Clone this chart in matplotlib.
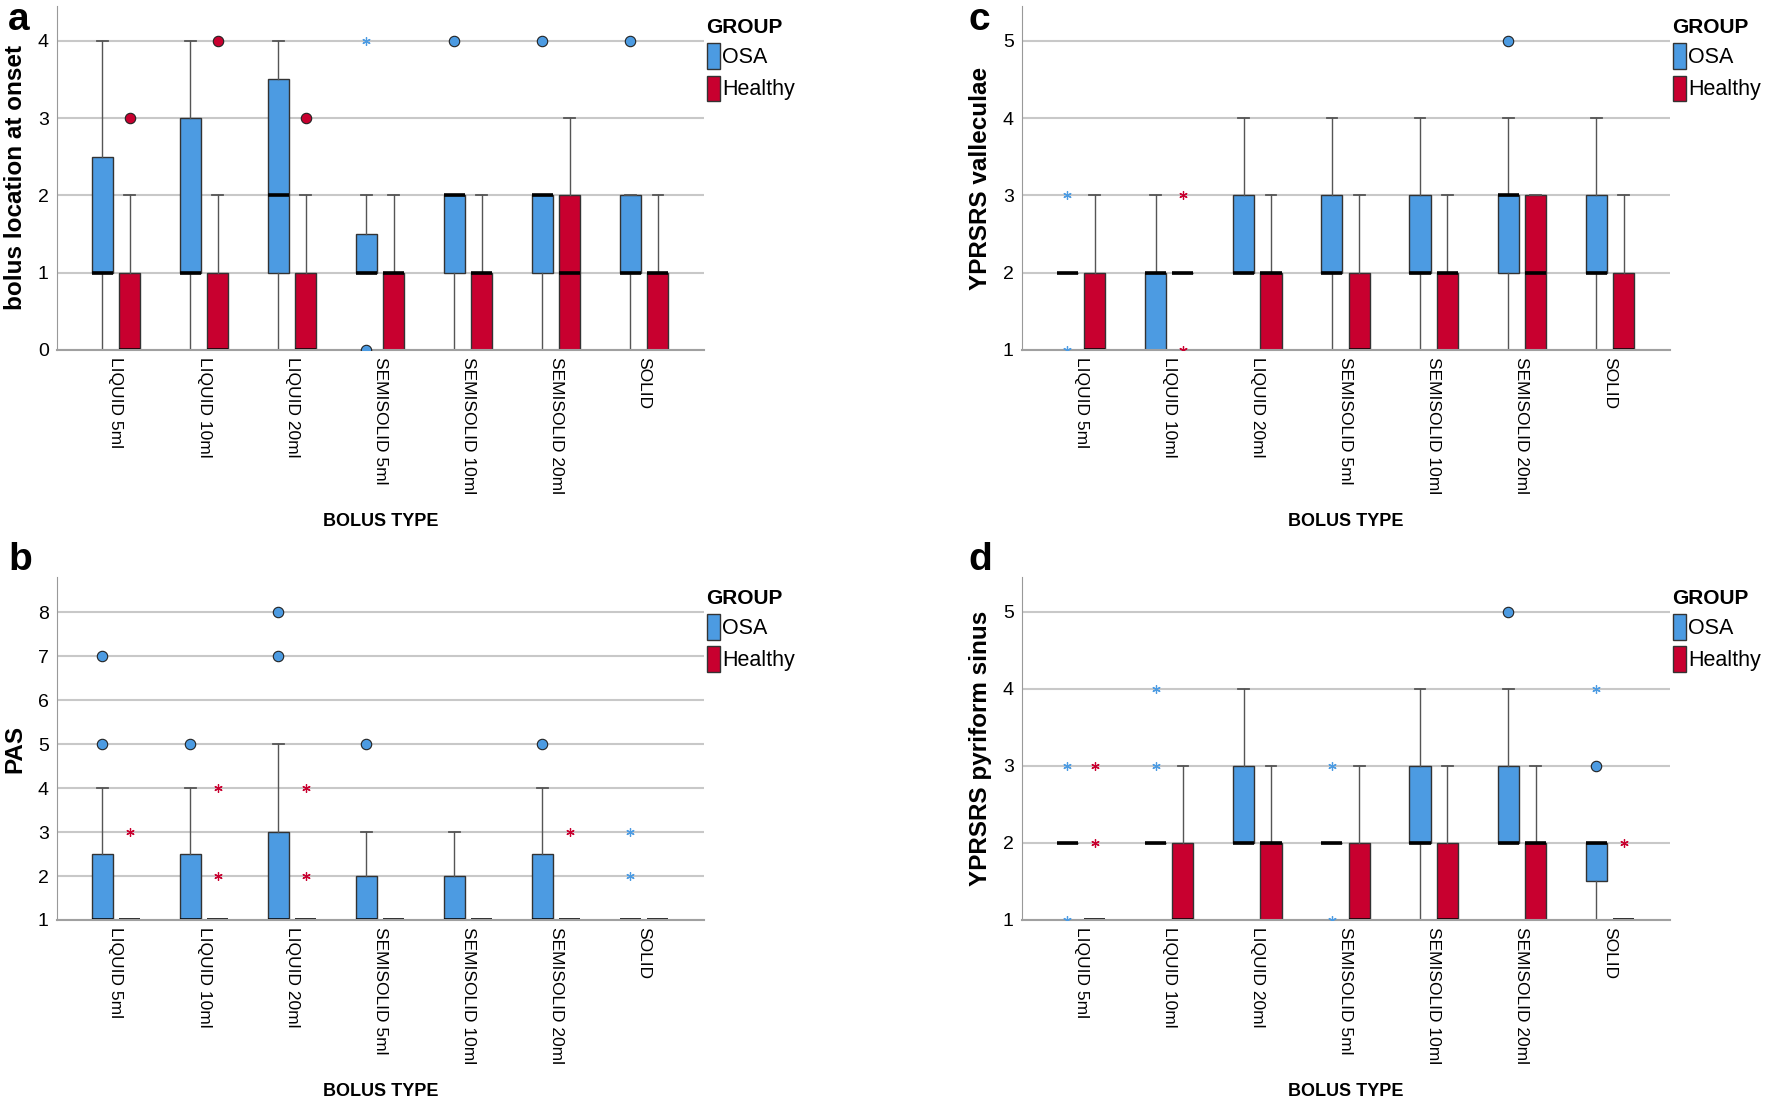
import matplotlib
matplotlib.use('Agg')
import matplotlib.pyplot as plt
from matplotlib.patches import Patch
from matplotlib.transforms import ScaledTranslation
import numpy as np

ARIAL = ['Liberation Sans', 'DejaVu Sans']
plt.rcParams['font.family'] = ARIAL

categories = ['LIQUID 5ml', 'LIQUID 10ml', 'LIQUID 20ml', 'SEMISOLID 5ml',
              'SEMISOLID 10ml', 'SEMISOLID 20ml', 'SOLID']
groups = ['OSA', 'Healthy']
colors = ['#4c9be2', '#c8002f']

# (whisker low, Q1, median, Q3, whisker high) for each bolus type
onset_osa = [(0, 1, 1, 2.5, 4), (0, 1, 1, 3, 4), (0, 1, 2, 3.5, 4), (1, 1, 1, 1.5, 2),
             (0, 1, 2, 2, 2), (0, 1, 2, 2, 2), (0, 1, 1, 2, 2)]
onset_healthy = [(0, 0, 0, 1, 2), (0, 0, 0, 1, 2), (0, 0, 0, 1, 2), (0, 0, 1, 1, 2),
                 (0, 0, 1, 1, 2), (0, 0, 1, 2, 3), (0, 0, 1, 1, 2)]
onset_osa_out = [[], [], [], [0], [4], [4], [4]]
onset_osa_ext = [[], [], [], [4], [], [], []]
onset_healthy_out = [[3], [4], [3], [], [], [], []]
onset_healthy_ext = [[], [], [], [], [], [], []]

pas_osa = [(1, 1, 1, 2.5, 4), (1, 1, 1, 2.5, 4), (1, 1, 1, 3, 5), (1, 1, 1, 2, 3),
           (1, 1, 1, 2, 3), (1, 1, 1, 2.5, 4), (1, 1, 1, 1, 1)]
pas_healthy = [(1, 1, 1, 1, 1), (1, 1, 1, 1, 1), (1, 1, 1, 1, 1), (1, 1, 1, 1, 1),
               (1, 1, 1, 1, 1), (1, 1, 1, 1, 1), (1, 1, 1, 1, 1)]
pas_osa_out = [[5, 7], [5], [7, 8], [5], [], [5], []]
pas_osa_ext = [[], [], [], [], [], [], [2, 3]]
pas_healthy_out = [[], [], [], [], [], [], []]
pas_healthy_ext = [[3], [2, 4], [2, 4], [], [], [3], []]

val_osa = [(2, 2, 2, 2, 2), (1, 1, 2, 2, 3), (2, 2, 2, 3, 4), (1, 2, 2, 3, 4),
           (1, 2, 2, 3, 4), (1, 2, 3, 3, 4), (1, 2, 2, 3, 4)]
val_healthy = [(1, 1, 1, 2, 3), (2, 2, 2, 2, 2), (1, 1, 2, 2, 3), (1, 1, 1, 2, 3),
               (1, 1, 2, 2, 3), (1, 1, 2, 3, 3), (1, 1, 1, 2, 3)]
val_osa_out = [[], [], [], [], [], [5], []]
val_osa_ext = [[1, 3], [], [], [], [], [], []]
val_healthy_out = [[], [], [], [], [], [], []]
val_healthy_ext = [[], [1, 3], [], [], [], [], []]

pyr_osa = [(2, 2, 2, 2, 2), (2, 2, 2, 2, 2), (2, 2, 2, 3, 4), (2, 2, 2, 2, 2),
           (1, 2, 2, 3, 4), (2, 2, 2, 3, 4), (1, 1.5, 2, 2, 2)]
pyr_healthy = [(1, 1, 1, 1, 1), (1, 1, 1, 2, 3), (1, 1, 2, 2, 3), (1, 1, 1, 2, 3),
               (1, 1, 1, 2, 3), (1, 1, 2, 2, 3), (1, 1, 1, 1, 1)]
pyr_osa_out = [[], [], [], [], [], [5], [3]]
pyr_osa_ext = [[1, 3], [3, 4], [], [1, 3], [], [], [4]]
pyr_healthy_out = [[], [], [], [], [], [], []]
pyr_healthy_ext = [[2, 3], [], [], [], [], [], [2]]

W, H = 1770, 1099
fig = plt.figure(figsize=(W / 100, H / 100), dpi=100)

def px_rect(left, top, right, bottom):
    return [left / W, 1 - bottom / H, (right - left) / W, (bottom - top) / H]

panels = [
    ('a', 'bolus location at onset', [onset_osa, onset_healthy],
     [onset_osa_out, onset_healthy_out], [onset_osa_ext, onset_healthy_ext],
     (0, 4.45), range(0, 5), px_rect(57, 6, 704, 350), (8, 30)),
    ('b', 'PAS', [pas_osa, pas_healthy],
     [pas_osa_out, pas_healthy_out], [pas_osa_ext, pas_healthy_ext],
     (1, 8.8), range(1, 9), px_rect(57, 577, 704, 920), (8, 570)),
    ('c', 'YPRSRS valleculae', [val_osa, val_healthy],
     [val_osa_out, val_healthy_out], [val_osa_ext, val_healthy_ext],
     (1, 5.45), range(1, 6), px_rect(1022, 6, 1670, 350), (968, 30)),
    ('d', 'YPRSRS pyriform sinus', [pyr_osa, pyr_healthy],
     [pyr_osa_out, pyr_healthy_out], [pyr_osa_ext, pyr_healthy_ext],
     (1, 5.45), range(1, 6), px_rect(1022, 577, 1670, 920), (968, 570)),
]

x = np.arange(len(categories))
offsets = [-0.155, 0.155]
shift_left = ScaledTranslation(-6 / 100, 0, fig.dpi_scale_trans)

for letter, ylabel, summaries, outs, exts, ylim, yticks, rect, lpos in panels:
    ax = fig.add_axes(rect)
    ax.set_axisbelow(True)
    for g in range(2):
        stats = [dict(whislo=s[0], q1=s[1], med=s[2], q3=s[3], whishi=s[4], fliers=[])
                 for s in summaries[g]]
        ax.bxp(stats, positions=x + offsets[g], widths=0.24, capwidths=0.12,
               patch_artist=True, showfliers=False, manage_ticks=False,
               boxprops=dict(facecolor=colors[g], edgecolor='#333333', linewidth=1),
               medianprops=dict(color='black', linewidth=2.6),
               whiskerprops=dict(color='#555555', linewidth=1),
               capprops=dict(color='#555555', linewidth=1.3))
        ox = [x[i] + offsets[g] for i, vals in enumerate(outs[g]) for v in vals]
        oy = [v for vals in outs[g] for v in vals]
        ax.plot(ox, oy, 'o', ms=7.5, mfc=colors[g], mec='#222222', mew=0.8, zorder=5)
        ex = [x[i] + offsets[g] for i, vals in enumerate(exts[g]) for v in vals]
        ey = [v for vals in exts[g] for v in vals]
        ax.plot(ex, ey, ls='none', marker=(6, 2, 0), ms=6, mec=colors[g], mew=0.9, zorder=5)

    ax.set_xlim(-0.67, 6.68)
    ax.set_ylim(*ylim)
    ax.set_yticks(list(yticks))
    ax.set_xticks(x)
    ax.set_xticklabels(categories, rotation=270, fontsize=12.5)
    for t in ax.get_xticklabels():
        t.set_transform(t.get_transform() + shift_left)
    ax.tick_params(axis='y', labelsize=14)
    ax.tick_params(length=0)
    ax.tick_params(axis='y', pad=6)
    ax.tick_params(axis='x', pad=5)
    ax.yaxis.grid(True, color='#c8c8c8', linewidth=1.5)
    for s in ['top', 'right']:
        ax.spines[s].set_visible(False)
    ax.spines['left'].set_color('#999999')
    ax.spines['bottom'].set_color('#a0a0a0')
    ax.spines['bottom'].set_linewidth(1.5)

    ax.set_ylabel(ylabel, fontsize=17.5, fontweight='bold')
    ax.yaxis.set_label_coords(-0.047, 0.5)
    ax.set_xlabel('BOLUS TYPE', fontsize=13, fontweight='bold')
    ax.xaxis.set_label_coords(0.5, -0.475)
    ax.xaxis.label.set_verticalalignment('top')

    handles = [Patch(facecolor=colors[g], edgecolor='#333333', label=groups[g]) for g in range(2)]
    ax.legend(handles=handles, title='GROUP', loc='upper left', bbox_to_anchor=(1.004, 0.965),
              frameon=False, prop={'size': 15.5},
              title_fontproperties={'size': 15, 'weight': 'bold'},
              handlelength=0.6, handleheight=1.45, handletextpad=0.12,
              borderaxespad=0, borderpad=0, labelspacing=0.3, alignment='left')

    fig.text(lpos[0] / W, 1 - lpos[1] / H, letter, fontsize=28, fontweight='bold',
             va='baseline')

fig.savefig('out.png', dpi=100)
